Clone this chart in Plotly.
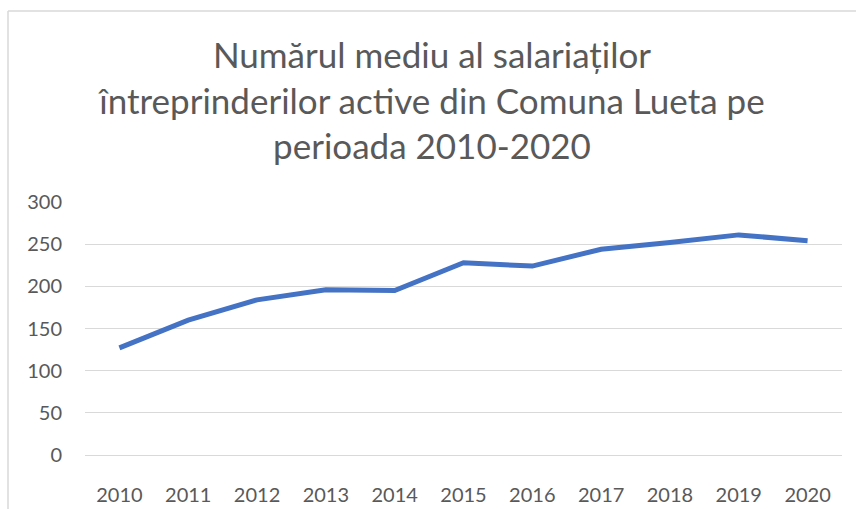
import plotly.graph_objects as go

years = ["2010", "2011", "2012", "2013", "2014", "2015", "2016", "2017", "2018", "2019", "2020"]
employees = [127, 160, 184, 196, 195, 228, 224, 244, 252, 261, 254]
y_ticks = [0, 50, 100, 150, 200, 250, 300]

title_text = "Numărul mediu al salariaților<br>întreprinderilor active din Comuna Lueta pe<br>perioada 2010-2020"

FONT = "Lato"
GRAY = "#595959"
GRID = "#d9d9d9"

fig = go.Figure()
fig.add_trace(go.Scatter(
    x=years, y=employees, mode="lines",
    line=dict(color="#4472C4", width=5),
    hoverinfo="x+y",
))

W, H = 856, 509
L, R, T, B = 85, 14, 202, 54
pw, ph = W - L - R, H - T - B

def px_to_paper_x(px):
    return (px - L) / pw

def px_to_paper_y(py):
    return (H - B - py) / ph

fig.update_layout(
    width=W, height=H,
    margin=dict(l=L, r=R, t=T, b=B, pad=0, autoexpand=False),
    paper_bgcolor="white", plot_bgcolor="white",
    showlegend=False,
    title=dict(
        text=title_text,
        font=dict(family=FONT, size=35, color=GRAY),
        x=432 / W, xanchor="center", xref="container",
        y=1 - 68 / H, yanchor="top", yref="container",
        automargin=False,
    ),
    xaxis=dict(
        type="category", range=[-0.5, 10.5], automargin=False,
        showgrid=False, zeroline=False,
        showline=True, linecolor=GRID, linewidth=1.3,
        ticks="", ticklabelstandoff=22,
        tickfont=dict(family=FONT, size=20, color=GRAY),
    ),
    yaxis=dict(
        range=[0, 300], tickvals=y_ticks, automargin=False,
        showgrid=True, gridcolor=GRID, gridwidth=1.3,
        zeroline=False, showline=False,
        ticks="", ticklabelstandoff=22,
        tickfont=dict(family=FONT, size=20, color=GRAY),
    ),
    shapes=[
        dict(type="line", xref="paper", yref="paper",
             x0=px_to_paper_x(8), x1=px_to_paper_x(W + 5),
             y0=px_to_paper_y(11), y1=px_to_paper_y(11),
             line=dict(color=GRID, width=1.5)),
        dict(type="line", xref="paper", yref="paper",
             x0=px_to_paper_x(8), x1=px_to_paper_x(8),
             y0=px_to_paper_y(11), y1=px_to_paper_y(H + 5),
             line=dict(color=GRID, width=1.5)),
    ],
)

fig.write_html(
    "out.html",
    config={"displayModeBar": False},
    post_script="document.body.style.margin='0';document.body.style.overflow='hidden';",
)
